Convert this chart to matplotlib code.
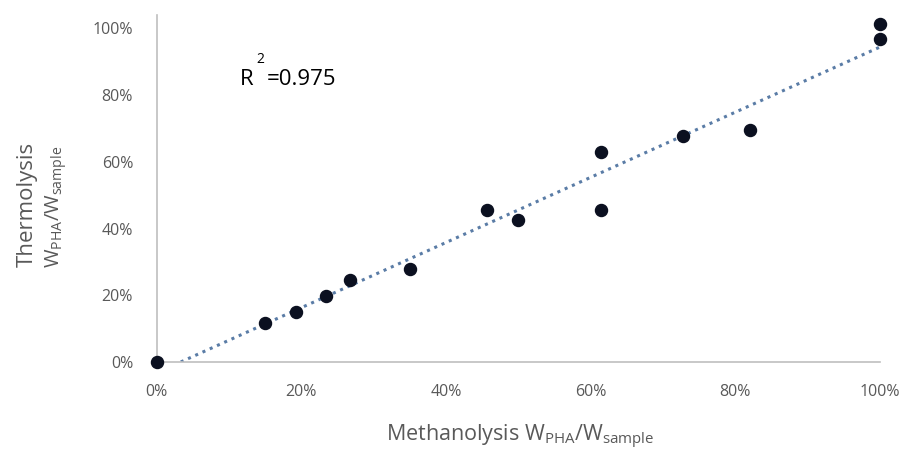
import numpy as np
import matplotlib
matplotlib.use("Agg")
import matplotlib.pyplot as plt
from matplotlib.ticker import PercentFormatter

# Data (fractions)
methanolysis = [0.0, 0.150, 0.192, 0.234, 0.267, 0.350, 0.456, 0.500, 0.614, 0.614, 0.728, 0.820, 1.000, 1.000]
thermolysis  = [0.0, 0.117, 0.149, 0.198, 0.246, 0.280, 0.455, 0.425, 0.629, 0.455, 0.677, 0.695, 1.014, 0.969]
x_ticks = [0.0, 0.2, 0.4, 0.6, 0.8, 1.0]
y_ticks = [0.0, 0.2, 0.4, 0.6, 0.8, 1.0]
r2_label = "=0.975"

plt.rcParams['font.family'] = ['Open Sans', 'DejaVu Sans']

fig = plt.figure(figsize=(9.11, 4.57), dpi=100)
ax = fig.add_axes([0.172, 0.208, 0.794, 0.759])

# linear trend line
slope, intercept = np.polyfit(methanolysis, thermolysis, 1)
x0 = max(0.0, -intercept / slope)
xs = np.array([x0, 1.0])
ax.plot(xs, slope * xs + intercept, linestyle=(0, (1, 1.6)), color='#5a7ca6', lw=2.2, zorder=2)

ax.scatter(methanolysis, thermolysis, s=75, color='#0b1020', zorder=3, clip_on=False)

ax.set_xlim(0, 1.0)
ax.set_ylim(0, 1.04)
ax.set_xticks(x_ticks)
ax.set_yticks(y_ticks)
ax.xaxis.set_major_formatter(PercentFormatter(1.0, decimals=0))
ax.yaxis.set_major_formatter(PercentFormatter(1.0, decimals=0))
ax.tick_params(axis='both', length=0, labelsize=11.5, labelcolor='#595959')
ax.tick_params(axis='x', pad=16)
ax.tick_params(axis='y', pad=17)

for s in ['top', 'right']:
    ax.spines[s].set_visible(False)
for s in ['left', 'bottom']:
    ax.spines[s].set_color('#bfbfbf')
    ax.spines[s].set_linewidth(1.2)

fig.text(0.571, 0.044, r"Methanolysis W$_{\mathregular{PHA}}$/W$_{\mathregular{sample}}$",
         ha='center', va='center', fontsize=15.5, color='#595959')
fig.text(0.030, 0.553, "Thermolysis", rotation=90, ha='center', va='center',
         fontsize=16, color='#595959')
fig.text(0.062, 0.548, r"W$_{\mathregular{PHA}}$/W$_{\mathregular{sample}}$", rotation=90,
         ha='center', va='center', fontsize=14.5, color='#595959')

# R^2 annotation
fig.text(0.263, 0.825, "R", ha='left', va='center', fontsize=16, color='black')
fig.text(0.281, 0.870, "2", ha='left', va='center', fontsize=10, color='black')
fig.text(0.293, 0.825, r2_label, ha='left', va='center', fontsize=16, color='black')

fig.savefig("out.png", dpi=100)
